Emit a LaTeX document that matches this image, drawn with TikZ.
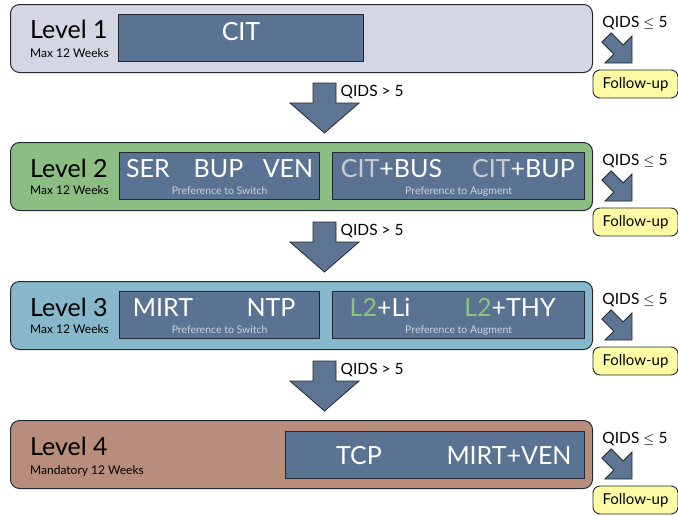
\documentclass[tikz,border=0pt]{standalone}
\usepackage{fontspec}
\setmainfont{Lato}
\usepackage{xcolor}
\usepackage{tikz}
\usetikzlibrary{
  arrows,
  positioning,
  calc,
  shapes}

\definecolor{lvonefill}{HTML}{D4D6E3}
\definecolor{lvtwofill}{HTML}{8CBD82}
\definecolor{lvthreefill}{HTML}{87B7CA}
\definecolor{lvfourfill}{HTML}{B98D7C}
\definecolor{drugfill}{HTML}{5B7393}
\definecolor{arrowfill}{HTML}{5D7592}
\definecolor{followfill}{HTML}{FDFCA5}
\definecolor{edgegray}{HTML}{222A30}
\definecolor{fadedtext}{HTML}{C9CDD3}
\definecolor{greentext}{HTML}{8DC27F}
\definecolor{notetext}{HTML}{CBD3DD}

\tikzset{every picture/.style={font issue=\normalsize},
         font issue/.style={execute at begin picture={#1\selectfont}},
         levelbox/.style={draw=edgegray, line width=1pt, rounded corners=9pt,
           minimum width=582pt, minimum height=68pt, anchor=north west, inner sep=0pt},
         drugbox/.style={draw=edgegray, line width=1.3pt, fill=drugfill,
           minimum height=47pt, anchor=north west, inner sep=0pt},
         drugname/.style={text=white, font=\fontsize{25}{25}\selectfont, anchor=base, inner sep=0pt},
         prefnote/.style={text=notetext, font=\fontsize{10.5}{11}\selectfont, anchor=base, inner sep=0pt},
         leveltitle/.style={font=\fontsize{25}{25}\selectfont, anchor=base west, inner sep=0pt},
         levelnote/.style={font=\fontsize{12}{12}\selectfont, anchor=base west, inner sep=0pt},
         blockarrow/.style={draw=edgegray, fill=arrowfill, line width=0.8pt, line join=miter},
         followbox/.style={draw=edgegray, fill=followfill, line width=0.9pt, rounded corners=7pt,
           minimum width=85pt, minimum height=28pt, inner sep=0pt, font=\fontsize{15}{15}\selectfont},
         qidslabel/.style={font=\fontsize{15.5}{16}\selectfont, inner sep=0pt}
        }

\begin{document}
\begin{tikzpicture}[x=1pt, y=-1pt]
\useasboundingbox (0,0) rectangle (678,515);

%Level 1
\node[levelbox, fill=lvonefill] (lv1) at (10,4) {};
\node[leveltitle] (lv1title) at ($(lv1.north west)+(20,34)$) {Level 1};
\node[levelnote] (lv1note) at ($(lv1.north west)+(20,53)$) {Max 12 Weeks};
\node[drugbox, minimum width=245pt] (cit) at ($(lv1.north west)+(108,10)$) {};
\node[drugname] at ($(cit.north west)+(123,26)$) {CIT};

%Level 2
\node[levelbox, fill=lvtwofill] (lv2) at (10,142) {};
\node[leveltitle] (lv2title) at ($(lv2.north west)+(20,35)$) {Level 2};
\node[levelnote] (lv2note) at ($(lv2.north west)+(20,52)$) {Max 12 Weeks};
\node[drugbox, minimum width=200pt] (switch2) at ($(lv2.north west)+(109,10)$) {};
\node[drugbox, minimum width=252pt] (augment2) at ($(lv2.north west)+(322,10)$) {};
\node[drugname] at ($(switch2.north west)+(29,25)$) {SER};
\node[drugname] at ($(switch2.north west)+(99.5,25)$) {BUP};
\node[drugname] at ($(switch2.north west)+(169,25)$) {VEN};
\node[prefnote] at ($(switch2.north)+(0,42)$) {Preference to Switch};
\node[drugname] at ($(augment2.north west)+(59.5,25)$) {{\color{fadedtext}CIT}+BUS};
\node[drugname] at ($(augment2.north west)+(191.5,25)$) {{\color{fadedtext}CIT}+BUP};
\node[prefnote] at ($(augment2.north)+(0,42)$) {Preference to Augment};

%Level 3
\node[levelbox, fill=lvthreefill] (lv3) at (10,281) {};
\node[leveltitle] (lv3title) at ($(lv3.north west)+(20,35)$) {Level 3};
\node[levelnote] (lv3note) at ($(lv3.north west)+(20,52)$) {Max 12 Weeks};
\node[drugbox, minimum width=200pt] (switch3) at ($(lv3.north west)+(109,10)$) {};
\node[drugbox, minimum width=252pt] (augment3) at ($(lv3.north west)+(322,10)$) {};
\node[drugname] at ($(switch3.north west)+(44,25)$) {MIRT};
\node[drugname] at ($(switch3.north west)+(152,25)$) {NTP};
\node[prefnote] at ($(switch3.north)+(0,42)$) {Preference to Switch};
\node[drugname] at ($(augment3.north west)+(48,25)$) {{\color{greentext}L2}+Li};
\node[drugname] at ($(augment3.north west)+(178,25)$) {{\color{greentext}L2}+THY};
\node[prefnote] at ($(augment3.north)+(0,42)$) {Preference to Augment};

%Level 4
\node[levelbox, fill=lvfourfill] (lv4) at (10,420) {};
\node[leveltitle] (lv4title) at ($(lv4.north west)+(20,35)$) {Level 4};
\node[levelnote] (lv4note) at ($(lv4.north west)+(20,54)$) {Mandatory 12 Weeks};
\node[drugbox, minimum width=299pt] (last4) at ($(lv4.north west)+(275,11)$) {};
\node[drugname] at ($(last4.north west)+(74,33)$) {TCP};
\node[drugname] at ($(last4.north west)+(224,33)$) {MIRT+VEN};

%down arrows, tip just above the next level
\foreach \up/\lv in {1/2,2/3,3/4}{
  \coordinate (tip\up\lv) at ($(lv\lv.north)+(23,-9)$);
  \draw[blockarrow] (tip\up\lv) -- ++(-34.5,-30) -- ++(23,0) -- ++(0,-20)
    -- ++(23,0) -- ++(0,20) -- ++(23,0) -- cycle;
  \node[qidslabel, anchor=west] (worse\up\lv) at ($(lv\lv.north)+(39,-50)$) {QIDS > 5};
}

%side arrows to follow-up
\foreach \lv in {1,2,3,4}{
  \node[qidslabel] (ok\lv) at ($(lv\lv.north east)+(42,19)$) {QIDS $\leq$ 5};
  \coordinate (side\lv) at ($(lv\lv.north east)+(39,59)$);
  \draw[blockarrow] (side\lv) -- ++(-27,0) -- ++(8.9,-8.9) -- ++(-12,-12)
    -- ++(9.2,-9.2) -- ++(12,12) -- ++(8.9,-8.9) -- cycle;
  \node[followbox] (fu\lv) at ($(lv\lv.north east)+(42.5,80)$) {Follow-up};
}

\end{tikzpicture}
\end{document}
